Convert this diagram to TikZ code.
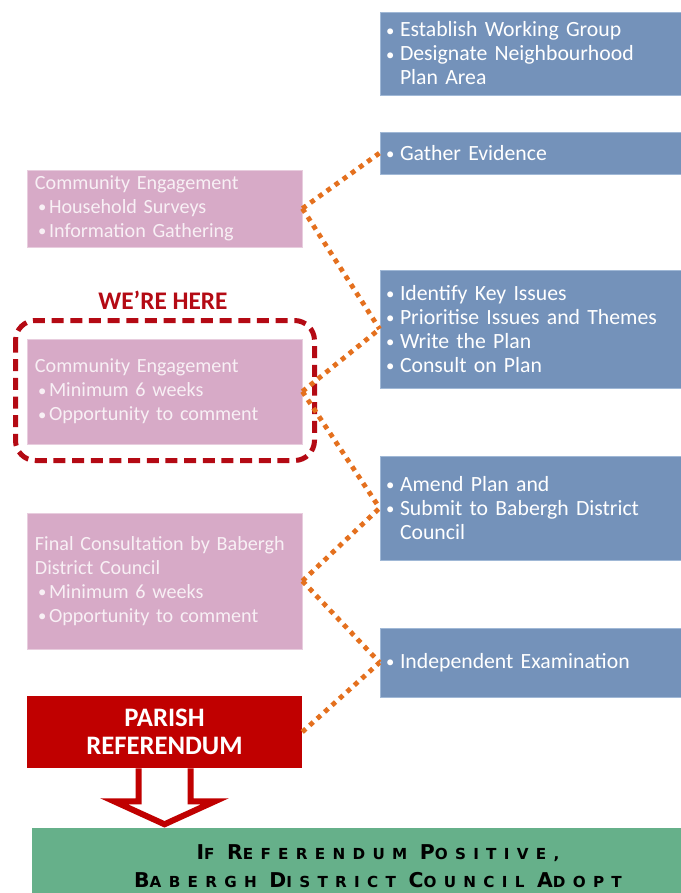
\documentclass[tikz,border=0pt]{standalone}
\usepackage{fontspec}
\usetikzlibrary{calc}
\setmainfont{Carlito}
\newfontfamily\gfont[LetterSpace=48]{DejaVu Sans}
\definecolor{bluefill}{RGB}{116,146,186}
\definecolor{blueedge}{RGB}{160,184,214}
\definecolor{pinkfill}{RGB}{215,170,199}
\definecolor{pinkedge}{RGB}{232,205,222}
\definecolor{redfill}{RGB}{192,0,0}
\definecolor{wered}{RGB}{180,10,20}
\definecolor{greenfill}{RGB}{102,176,138}
\definecolor{dotorange}{RGB}{228,112,30}
\definecolor{pinktext}{RGB}{248,240,245}
\newcommand\smb{{\fontsize{12.5}{12}\selectfont\raisebox{0.6pt}{•}}}
\newcommand\bb{\makebox[10.5pt][l]{\smb}}
\newcommand\hb{\hspace*{10.5pt}}
\newcommand\bp{\hspace*{2.25pt}\makebox[8.25pt][l]{\smb}}
\newcommand\SCw[2]{{\fontsize{15.3}{21}\selectfont #1}{\fontsize{11.4}{21}\selectfont #2}}
\tikzset{
  bluebox/.style={rectangle, fill=bluefill, draw=blueedge, line width=0.6pt,
    text=white, inner xsep=4.5pt, inner ysep=0pt, text width=216.75pt, align=left,
    font=\fontsize{16.3}{18}\selectfont},
  pinkbox/.style={rectangle, fill=pinkfill, draw=pinkedge, line width=0.6pt,
    text=pinktext, inner xsep=6pt, inner ysep=0pt, text width=194.25pt, align=left,
    font=\fontsize{15.1}{18}\selectfont},
  refbox/.style={rectangle, fill=redfill, text=white, inner sep=0pt,
    minimum width=206.25pt, minimum height=54pt, align=center,
    font=\bfseries\fontsize{20}{21.5}\selectfont},
  greenbox/.style={rectangle, fill=greenfill, text=black, inner sep=0pt,
    minimum width=519pt, minimum height=57.75pt, align=center,
    font=\gfont\bfseries\fontsize{11.4}{21}\selectfont},
  dots/.style={draw=dotorange, line width=3.6pt, dash pattern=on 3.6pt off 3.9pt},
  herebox/.style={draw=wered, line width=3.75pt, rounded corners=15pt,
    dash pattern=on 9pt off 5pt},
  herelabel/.style={text=wered, font=\bfseries\fontsize{19}{20}\selectfont, inner sep=0pt},
  bigarrow/.style={draw=redfill, fill=white, line width=4.5pt, line join=miter, line cap=butt}
}
\begin{document}
\begin{tikzpicture}[x=0.75pt,y=-0.75pt]
\path[use as bounding box] (0,0) rectangle (681,893);

% right column (blue)
\node[bluebox, minimum height=62.25pt] (b1) at (530.5,53.5)
  {\bb Establish Working Group\\ \bb Designate Neighbourhood\\ \hb Plan Area};
\node[bluebox, minimum height=31.5pt] (b2) at (530.5,153)
  {\bb Gather Evidence};
\node[bluebox, minimum height=88.5pt] (b3) at (530.5,329)
  {\bb Identify Key Issues\\ \bb Prioritise Issues and Themes\\ \bb Write the Plan\\ \bb Consult on Plan};
\node[bluebox, minimum height=78pt] (b4) at (530.5,508)
  {\bb Amend Plan and\\ \bb Submit to Babergh District\\ \hb Council};
\node[bluebox, minimum height=51.75pt] (b5) at (530.5,662.5)
  {\bb Independent Examination};

% left column (pink)
\node[pinkbox, minimum height=57.75pt] (p1) at (164.5,208.5)
  {Community Engagement\\ \bp Household Surveys\\ \bp Information Gathering};
\node[pinkbox, minimum height=78.75pt] (p2) at (164.5,391.5)
  {Community Engagement\\ \bp Minimum 6 weeks\\ \bp Opportunity to comment};
\node[pinkbox, minimum height=102pt] (p3) at (164.5,581)
  {Final Consultation by Babergh\\ District Council\\ \bp Minimum 6 weeks\\ \bp Opportunity to comment};

% we're here
\draw[herebox] (15.5,320.5) rectangle (314.5,460.5);
\node[herelabel] (here) at (163,300) {WE’RE HERE};

% referendum
\node[refbox] (ref) at (164.5,732) {PARISH\\REFERENDUM};

% green result box
\node[greenbox] (adopt) at (378,866.5)
  {\SCw{I}{F} \SCw{R}{EFERENDUM} \SCw{P}{OSITIVE,}\\
   \SCw{B}{ABERGH} \SCw{D}{ISTRICT} \SCw{C}{OUNCIL} \SCw{A}{DOPT}};

% hollow arrow
\draw[bigarrow] ($(ref.south)+(-26,0)$) -- ++(0,33) -- ++(-24.5,0)
   -- ($(ref.south)+(0,56)$) -- ($(ref.south)+(50.5,33)$) -- ++(-24.5,0) -- ($(ref.south)+(26,0)$);

% dotted connectors
\draw[dots] (p1.east) -- (b2.west);
\draw[dots] (p1.east) -- (b3.west);
\draw[dots] (p2.east) -- (b3.west);
\draw[dots] (p2.east) -- (b4.west);
\draw[dots] (p3.east) -- (b4.west);
\draw[dots] (p3.east) -- (b5.west);
\draw[dots] (ref.east) -- (b5.west);
\end{tikzpicture}
\end{document}
